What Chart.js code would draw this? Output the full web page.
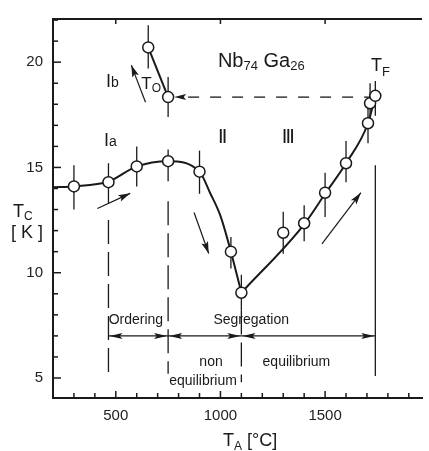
<!DOCTYPE html>
<html>
<head>
<meta charset="utf-8">
<script src="https://cdn.jsdelivr.net/npm/chart.js@4.4.0/dist/chart.umd.min.js"></script>
<style>
html,body{margin:0;padding:0;background:#fff;}
#wrap{width:429px;height:451px;}
</style>
</head>
<body>
<div id="wrap"><canvas id="tcChart" width="429" height="451"></canvas></div>
<script>
// measured points: annealing temperature (°C) and Tc (K) with error bar ends
const annealT  = [300, 465, 600, 750, 900, 1050, 1100, 1300, 1400, 1500, 1600, 1705, 1715, 1740];
const tcVals   = [14.1, 14.3, 15.05, 15.3, 14.8, 11.0, 9.05, 11.9, 12.35, 13.8, 15.2, 17.1, 18.05, 18.4];
const tcLow    = [13.0, 13.3, 14.1, 14.35, 13.75, 10.2, 8.2, 10.9, 11.5, 12.65, 14.3, 16.15, 17.2, 17.45];
const tcHigh   = [15.1, 15.2, 16.0, 15.85, 15.8, 11.7, 9.9, 12.9, 13.2, 14.75, 16.25, 18.0, 19.0, 19.1];

// branch Ib (T0)
const annealTb = [655, 750];
const tcValsB  = [20.7, 18.34];
const tcLowB   = [19.7, 17.4];
const tcHighB  = [21.75, 19.3];

// drawn curves
const curveAx = [200, 300, 465, 600, 750, 900, 950, 1000, 1050, 1100];
const curveAy = [14.06, 14.1, 14.33, 15.05, 15.3, 14.8, 13.8, 12.7, 11.0, 9.05];
const curveBx = [1100, 1400, 1500, 1600, 1705, 1740];
const curveBy = [9.05, 12.3, 13.75, 15.2, 17.1, 18.4];

const xTickLabels = [500, 1000, 1500];
const yTickLabels = [5, 10, 15, 20];

// regime borders (°C) and arrow guides [x1, y1, x2, y2]
const regimeBounds = [465, 750, 1100, 1740];
const regimeLevel = 7.0;
const flowArrows = [[412, 13.05, 569, 13.77], [642, 18.1, 574, 19.86], [874, 12.86, 944, 10.91], [1485, 11.37, 1671, 13.8]];

const INK = '#1a1a1a';
const SANS = '"Liberation Sans", Arial, sans-serif';

function pts(xs, ys){ return xs.map((v, i) => ({x: v, y: ys[i]})); }

function arrowHead(ctx, x1, y1, x2, y2, len, half){
  const a = Math.atan2(y2 - y1, x2 - x1);
  const c = Math.cos(a), s = Math.sin(a);
  ctx.beginPath();
  ctx.moveTo(x2, y2);
  ctx.lineTo(x2 - len*c + half*s, y2 - len*s - half*c);
  ctx.lineTo(x2 - len*0.8*c, y2 - len*0.8*s);
  ctx.lineTo(x2 - len*c - half*s, y2 - len*s + half*c);
  ctx.closePath();
  ctx.fill();
}

function drawParts(ctx, x, y, parts){
  let cx = x;
  for (const [t, f, dy] of parts){
    ctx.font = f;
    ctx.fillText(t, cx, y + dy);
    cx += ctx.measureText(t).width;
  }
}

function line(ctx, x1, y1, x2, y2){
  ctx.beginPath(); ctx.moveTo(x1, y1); ctx.lineTo(x2, y2); ctx.stroke();
}

const guides = {
  id: 'guides',
  beforeDatasetsDraw(chart){
    const {ctx, scales: {x, y}} = chart;
    ctx.save();
    ctx.strokeStyle = INK;
    ctx.fillStyle = INK;

    // error bars
    ctx.lineWidth = 1.3;
    const bars = (xs, lo, hi) => xs.forEach((v, i) => {
      line(ctx, x.getPixelForValue(v), y.getPixelForValue(lo[i]), x.getPixelForValue(v), y.getPixelForValue(hi[i]));
    });
    bars(annealT, tcLow, tcHigh);
    bars(annealTb, tcLowB, tcHighB);

    // dashed verticals
    ctx.setLineDash([24, 8]);
    line(ctx, x.getPixelForValue(465), y.getPixelForValue(12.5), x.getPixelForValue(465), y.getPixelForValue(5.0));
    line(ctx, x.getPixelForValue(750), y.getPixelForValue(13.4), x.getPixelForValue(750), y.getPixelForValue(5.2));
    line(ctx, x.getPixelForValue(1100), y.getPixelForValue(8.2), x.getPixelForValue(1100), y.getPixelForValue(4.8));
    ctx.setLineDash([]);
    line(ctx, x.getPixelForValue(1740), y.getPixelForValue(15.1), x.getPixelForValue(1740), y.getPixelForValue(5.1));

    // dashed T0 -> TF level
    ctx.setLineDash([11, 11]);
    const yl = y.getPixelForValue(tcValsB[1]);
    line(ctx, x.getPixelForValue(750) + 20, yl, x.getPixelForValue(1740), yl);
    ctx.setLineDash([]);
    arrowHead(ctx, x.getPixelForValue(750) + 20, yl, x.getPixelForValue(750) + 6, yl, 12, 3);

    // regime bracket
    const yr = y.getPixelForValue(regimeLevel);
    line(ctx, x.getPixelForValue(regimeBounds[0]), yr, x.getPixelForValue(regimeBounds[3]), yr);
    for (let i = 0; i < regimeBounds.length - 1; i++){
      const l = x.getPixelForValue(regimeBounds[i]), r = x.getPixelForValue(regimeBounds[i + 1]);
      arrowHead(ctx, l + 14, yr, l + 1, yr, 13, 3);
      arrowHead(ctx, r - 14, yr, r - 1, yr, 13, 3);
    }

    // flow arrows
    ctx.lineWidth = 1.2;
    for (const [a, b, c, d] of flowArrows){
      const x1 = x.getPixelForValue(a), y1 = y.getPixelForValue(b);
      const x2 = x.getPixelForValue(c), y2 = y.getPixelForValue(d);
      line(ctx, x1, y1, x2, y2);
      arrowHead(ctx, x1, y1, x2, y2, 12, 3.5);
    }
    ctx.restore();
  },
  afterDraw(chart){
    const {ctx, chartArea: a, scales: {x, y}} = chart;
    ctx.save();
    ctx.strokeStyle = INK;
    ctx.fillStyle = INK;

    // frame top + inward ticks
    ctx.lineWidth = 2;
    line(ctx, a.left - 1, a.top, a.right, a.top);
    ctx.lineWidth = 1.5;
    for (let v = 300; v < x.max; v += 100){
      const px = x.getPixelForValue(v);
      line(ctx, px, a.bottom, px, a.bottom - (v % 500 === 0 ? 7 : 5));
      if (v % 500 === 0) line(ctx, px, a.top, px, a.top + 5);
    }
    for (let v = 5; v <= 22; v++){
      const py = y.getPixelForValue(v);
      line(ctx, a.left, py, a.left + (v % 5 === 0 ? 8 : 5), py);
    }

    // text labels
    ctx.textAlign = 'left';
    ctx.textBaseline = 'alphabetic';
    const X = v => x.getPixelForValue(v), Y = v => y.getPixelForValue(v);
    drawParts(ctx, X(988), Y(19.75), [['Nb', '20px ' + SANS, 0], ['74', '13px ' + SANS, 3], [' Ga', '20px ' + SANS, 0], ['26', '13px ' + SANS, 3]]);
    drawParts(ctx, X(1719), Y(19.56), [['T', '18px ' + SANS, 0], ['F', '13px ' + SANS, 5]]);
    drawParts(ctx, X(622), Y(18.72), [['T', '17px ' + SANS, 0], ['O', '12px ' + SANS, 3]]);
    drawParts(ctx, X(453), Y(18.82), [['\u2160', '17px "DejaVu Sans"', 0], ['b', '14px ' + SANS, 0]]);
    drawParts(ctx, X(444), Y(16.0), [['\u2160', '17px "DejaVu Sans"', 0], ['a', '14px ' + SANS, 0]]);
    drawParts(ctx, X(988), Y(16.14), [['\u2161', '19px "DejaVu Sans"', 0]]);
    drawParts(ctx, X(1293), Y(16.14), [['\u2162', '19px "DejaVu Sans"', 0]]);

    ctx.textAlign = 'center';
    ctx.textBaseline = 'middle';
    ctx.font = '14px ' + SANS;
    ctx.fillText('Ordering', X(596), Y(7.75));
    ctx.fillText('Segregation', X(1147), Y(7.75));
    ctx.fillText('non', X(955), Y(5.73));
    ctx.fillText('equilibrium', X(917), Y(4.84));
    ctx.fillText('equilibrium', X(1363), Y(5.73));

    // axis titles with subscripts
    ctx.textAlign = 'left';
    ctx.textBaseline = 'alphabetic';
    drawParts(ctx, a.left + 170, a.bottom + 48, [['T', '18px ' + SANS, 0], ['A', '12px ' + SANS, 4], [' [°C]', '18px ' + SANS, 0]]);
    drawParts(ctx, 13, 217, [['T', '18px ' + SANS, 0], ['C', '12px ' + SANS, 3]]);
    drawParts(ctx, 11, 238, [['[ K ]', '18px ' + SANS, 0]]);
    ctx.restore();
  }
};

new Chart(document.getElementById('tcChart').getContext('2d'), {
  type: 'scatter',
  data: {
    datasets: [
      {
        label: 'Tc',
        data: pts(annealT, tcVals).concat(pts(annealTb, tcValsB)),
        pointRadius: 5.5,
        pointBackgroundColor: '#fff',
        pointBorderColor: INK,
        pointBorderWidth: 1.5,
        order: 0
      },
      {
        label: 'curve Ia-II',
        data: pts(curveAx, curveAy),
        showLine: true,
        pointRadius: 0,
        borderColor: INK,
        borderWidth: 2,
        cubicInterpolationMode: 'monotone',
        order: 1
      },
      {
        label: 'curve III',
        data: pts(curveBx, curveBy),
        showLine: true,
        pointRadius: 0,
        borderColor: INK,
        borderWidth: 2,
        cubicInterpolationMode: 'monotone',
        order: 1
      },
      {
        label: 'curve Ib',
        data: pts(annealTb, tcValsB),
        showLine: true,
        pointRadius: 0,
        borderColor: INK,
        borderWidth: 2,
        order: 1
      }
    ]
  },
  options: {
    responsive: false,
    animation: false,
    devicePixelRatio: 1,
    layout: {padding: {top: 14, left: 0, right: 0, bottom: 0}},
    plugins: {legend: {display: false}, tooltip: {enabled: false}},
    scales: {
      x: {
        type: 'linear', min: 200, max: 1963,
        grid: {display: false, drawTicks: false},
        border: {color: INK, width: 2},
        ticks: {
          autoSkip: false, maxRotation: 0, padding: 9,
          color: '#222', font: {family: SANS, size: 15},
          callback: v => String(v)
        },
        afterBuildTicks: s => { s.ticks = xTickLabels.map(v => ({value: v})); },
        afterFit: s => { s.height = 53; }
      },
      y: {
        type: 'linear', min: 4.05, max: 22.05,
        grid: {display: false, drawTicks: false},
        border: {color: INK, width: 2},
        ticks: {
          autoSkip: false, padding: 10,
          color: '#222', font: {family: SANS, size: 15},
          callback: v => String(v)
        },
        afterBuildTicks: s => { s.ticks = yTickLabels.map(v => ({value: v})); },
        afterFit: s => { s.width = 53; }
      }
    }
  },
  plugins: [guides]
});
</script>
</body>
</html>
